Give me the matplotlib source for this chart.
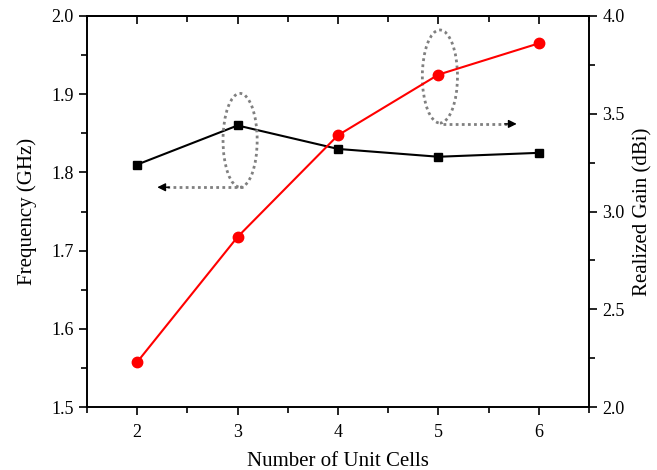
import matplotlib
matplotlib.use("Agg")
import matplotlib.pyplot as plt
from matplotlib.patches import Ellipse
from matplotlib.ticker import MultipleLocator, FormatStrFormatter, NullFormatter

cells = [2, 3, 4, 5, 6]
frequency = [1.810, 1.860, 1.830, 1.820, 1.825]
gain = [2.23, 2.87, 3.39, 3.70, 3.86]

plt.rcParams['font.family'] = ['Liberation Serif', 'DejaVu Serif']

fig = plt.figure(figsize=(6.57, 4.70), dpi=100)
ax = fig.add_axes([0.1324, 0.134, 0.7641, 0.832])
ax2 = ax.twinx()

ax.plot(cells, frequency, color='black', lw=1.5, marker='s', ms=6, zorder=3)
ax2.plot(cells, gain, color='red', lw=1.5, marker='o', ms=7.5, zorder=3)

ax.set_xlim(1.5, 6.5)
ax.set_ylim(1.5, 2.0)
ax2.set_ylim(2.0, 4.0)

ax.xaxis.set_major_locator(MultipleLocator(1))
ax.xaxis.set_minor_locator(MultipleLocator(0.5))
ax.yaxis.set_major_locator(MultipleLocator(0.1))
ax.yaxis.set_minor_locator(MultipleLocator(0.05))
ax2.yaxis.set_major_locator(MultipleLocator(0.5))
ax2.yaxis.set_minor_locator(MultipleLocator(0.25))

for a in (ax, ax2):
    a.tick_params(which='both', direction='out', labelsize=13, width=1.2)
    a.tick_params(which='major', length=6)
    a.tick_params(which='minor', length=4)
    for s in a.spines.values():
        s.set_linewidth(1.2)
ax.tick_params(axis='x', which='major', pad=6)
ax.yaxis.set_major_formatter(FormatStrFormatter('%.1f'))
ax2.yaxis.set_major_formatter(FormatStrFormatter('%.1f'))

top = ax.secondary_xaxis('top')
top.xaxis.set_major_locator(MultipleLocator(1))
top.xaxis.set_minor_locator(MultipleLocator(0.5))
top.xaxis.set_major_formatter(NullFormatter())
top.tick_params(which='both', direction='in', width=1.2)
top.tick_params(which='major', length=6)
top.tick_params(which='minor', length=4)
top.spines['top'].set_linewidth(1.2)

ax.set_xlabel('Number of Unit Cells', fontsize=15, labelpad=8)
ax.set_ylabel('Frequency (GHz)', fontsize=15, labelpad=10)
ax2.set_ylabel('Realized Gain (dBi)', fontsize=15, labelpad=6)

# annotations
dot = dict(color='gray', ls=(0, (1, 1.2)), lw=2, zorder=4)
ax.add_patch(Ellipse((3.025, 1.841), 0.34, 0.12, fill=False, ec='gray', ls=(0, (1, 1.2)), lw=2, zorder=4))
ax.plot([3.05, 2.3], [1.781, 1.781], **dot)
ax.annotate('', xy=(2.2, 1.781), xytext=(2.32, 1.781),
            arrowprops=dict(arrowstyle='-|>', color='black', lw=1,
                            mutation_scale=12, shrinkA=0, shrinkB=0), zorder=5)
ax.add_patch(Ellipse((5.015, 1.9226), 0.35, 0.119, fill=False, ec='gray', ls=(0, (1, 1.2)), lw=2, zorder=4))
ax.plot([5.05, 5.7], [1.862, 1.862], **dot)
ax.annotate('', xy=(5.78, 1.862), xytext=(5.66, 1.862),
            arrowprops=dict(arrowstyle='-|>', color='black', lw=1,
                            mutation_scale=12, shrinkA=0, shrinkB=0), zorder=5)

fig.savefig('out.png', dpi=100)
